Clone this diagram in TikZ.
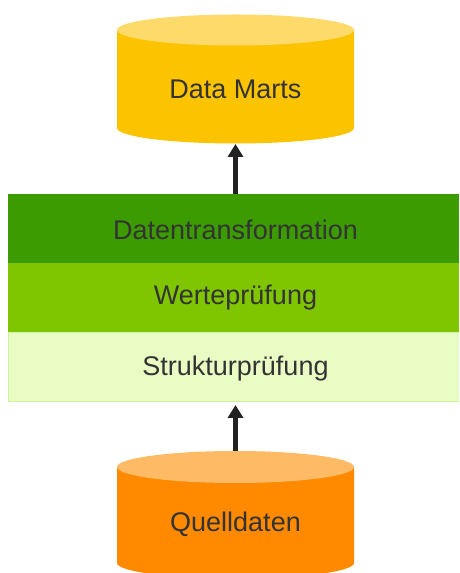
\documentclass[tikz,border=0pt]{standalone}
\usepackage{fontspec}
\setmainfont{Liberation Sans}
\usetikzlibrary{arrows.meta}
\definecolor{dmbody}{HTML}{FCC400}
\definecolor{dmtop}{HTML}{FDDA6A}
\definecolor{qdbody}{HTML}{FF8A00}
\definecolor{qdtop}{HTML}{FFBA66}
\definecolor{banddark}{HTML}{3B9B00}
\definecolor{bandmid}{HTML}{7FC500}
\definecolor{bandlight}{HTML}{E8FCC4}
\definecolor{bandlightedge}{HTML}{CFF29E}
\definecolor{txt}{HTML}{333333}
\definecolor{arr}{HTML}{222222}
\tikzset{
  lbl/.style={text=txt, font=\fontsize{27}{31}\selectfont, inner sep=0pt},
  uparrow/.style={draw=arr, line width=5pt, -{Triangle[width=15pt,length=13pt]}, shorten <=0pt, shorten >=0pt}
}
\begin{document}
\begin{tikzpicture}[x=1pt,y=1pt]
\useasboundingbox (0,0) rectangle (459,573);
\clip (0,0) rectangle (459,573);
% Data Marts cylinder
\fill[dmbody] (117,543) -- (117,445) arc[start angle=180,end angle=360,x radius=118.5,y radius=15.5] -- (354,543) -- cycle;
\fill[dmtop] (235.5,543) ellipse[x radius=118.5,y radius=15.5];
\node[lbl] (dm) at (235.5,484) {Data Marts};
\coordinate (dmbot) at (235.5,429);
% bands
\fill[banddark] (8,310) rectangle (459,379);
\fill[bandmid] (8,241) rectangle (459,310);
\filldraw[fill=bandlight, draw=bandlightedge, line width=1pt] (8.5,171.5) rectangle (460,240);
\node[lbl] (dt) at (235.5,343) {Datentransformation};
\node[lbl] (wp) at (235.5,275) {Werteprüfung};
\node[lbl] (sp) at (235.5,204) {Strukturprüfung};
\coordinate (bandtop) at (235.5,379);
\coordinate (bandbot) at (235.5,168);
% Quelldaten cylinder
\fill[qdbody] (117,106) -- (117,10) arc[start angle=180,end angle=360,x radius=118.5,y radius=15.5] -- (354,106) -- cycle;
\fill[qdtop] (235.5,106) ellipse[x radius=118.5,y radius=16];
\node[lbl] (qd) at (235.5,49) {Quelldaten};
\coordinate (qdtopc) at (235.5,122);
% arrows
\draw[uparrow] (bandtop) -- (dmbot);
\draw[uparrow] (qdtopc) -- (bandbot);
\end{tikzpicture}
\end{document}
